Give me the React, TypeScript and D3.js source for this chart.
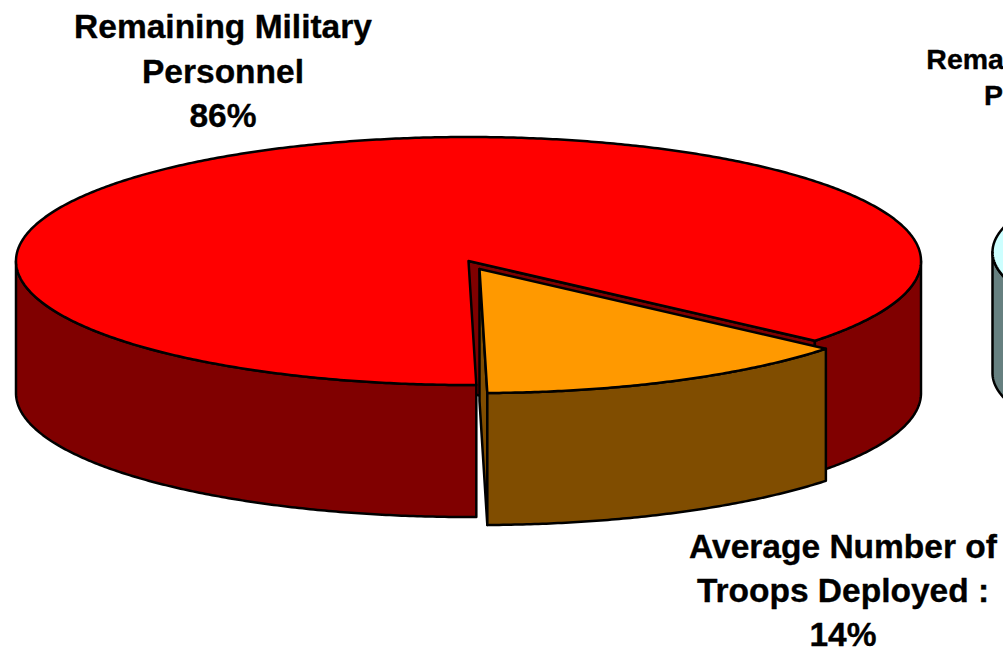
import React from "react";
import * as d3 from "d3";

// Data
const sliceNames = ["Average Number of Troops Deployed", "Remaining Military Personnel"];
const sliceValues = [13.6, 86.4];
const topColors = ["#FF9900", "#FF0000"];
const wallColors = ["#804D00", "#800000"];
const labelLines = [
  ["Average Number of", "Troops Deployed :", "14%"],
  ["Remaining Military", "Personnel", "86%"],
];
const secondPieLabel = ["Remaining Military", "Personnel"];
const secondPieValues = [100];
const secondTop = "#CCFFFF";
const secondWall = "#668080";

const deg = Math.PI / 180;
const FONT = "'Liberation Sans', Arial, sans-serif";
const STROKE = 2.5;

// Projection: unit circle to tilted ellipse
const px = d3.scaleLinear().domain([-1, 1]).range([16, 921]);
const py = d3.scaleLinear().domain([-1, 1]).range([137, 385]);
const DEPTH = 132;
const EXPLODE: [number, number] = [11, 8];

const px2 = d3.scaleLinear().domain([-1, 1]).range([992.5, 1722.5]);
const py2 = d3.scaleLinear().domain([-1, 1]).range([152, 352]);
const DEPTH2 = 121;

const pie = d3
  .pie<number>()
  .sort(null)
  .value((d) => d)
  .startAngle(130.05 * deg)
  .endAngle(130.05 * deg + 2 * Math.PI);
const arcs = pie(sliceValues);

type P = [number, number];
const line = d3.line<P>();
const pt = (a: number, dx = 0, dy = 0, sx = px, sy = py): P => [
  sx(Math.sin(a)) + dx,
  sy(-Math.cos(a)) + dy,
];
const sample = (a0: number, a1: number) => {
  const n = Math.max(2, Math.ceil(Math.abs(a1 - a0) / (0.5 * deg)));
  return d3.range(n + 1).map((i) => a0 + ((a1 - a0) * i) / n);
};
const arcPts = (a0: number, a1: number, dx = 0, dy = 0, sx = px, sy = py) =>
  sample(a0, a1).map((a) => pt(a, dx, dy, sx, sy));
const closed = (pts: P[]) => (line(pts) as string) + "Z";

// Parts of [a0,a1] on the near side of the ellipse (90°..270° from 12 o'clock)
const frontRanges = (a0: number, a1: number): [number, number][] => {
  const out: [number, number][] = [];
  for (let k = 0; k < 3; k++) {
    const lo = Math.max(a0, Math.PI / 2 + k * 2 * Math.PI);
    const hi = Math.min(a1, (3 * Math.PI) / 2 + k * 2 * Math.PI);
    if (hi > lo) out.push([lo, hi]);
  }
  return out;
};

const wallPath = (a0: number, a1: number, dx = 0, dy = 0, d = DEPTH, sx = px, sy = py) => {
  const top = arcPts(a0, a1, dx, dy, sx, sy);
  const bottom = arcPts(a1, a0, dx, dy + d, sx, sy);
  return closed([...top, ...bottom]);
};

const orange = arcs[0];
const red = arcs[1];
const center: P = [px(0), py(0)];
const oCenter: P = [center[0] + EXPLODE[0], center[1] + EXPLODE[1]];

const Text = ({ lines, cx, y0, lh, size }: { lines: string[]; cx: number; y0: number; lh: number; size: number }) => (
  <text fontFamily={FONT} fontWeight="bold" fontSize={size} textAnchor="middle" fill="#000">
    {lines.map((l, i) => (
      <tspan key={i} x={cx} y={y0 + i * lh}>
        {l}
      </tspan>
    ))}
  </text>
);

export default function App() {
  const redEnd = pt(red.endAngle); // right cut of the red slice
  const secondArcs = d3.pie<number>().sort(null)(secondPieValues);
  const s = secondArcs[0];
  return (
    <svg
      width={1003}
      height={650}
      viewBox="0 0 1003 650"
      style={{ position: "absolute", left: 0, top: 0, display: "block", background: "#fff" }}
      stroke="#000"
      strokeWidth={STROKE}
      strokeLinejoin="round"
    >
      {/* second pie, cropped by the page edge */}
      {frontRanges(s.startAngle, s.endAngle).map(([a, b], i) => (
        <path key={i} d={wallPath(a, b, 0, 0, DEPTH2, px2, py2)} fill={secondWall} />
      ))}
      <path d={closed(arcPts(s.startAngle, s.endAngle, 0, 0, px2, py2))} fill={secondTop} />

      {/* red slice: cut face, outer wall, top */}
      <path
        d={closed([center, redEnd, [redEnd[0], redEnd[1] + DEPTH], [center[0], center[1] + DEPTH]])}
        fill={wallColors[1]}
      />
      {frontRanges(red.startAngle, red.endAngle).map(([a, b], i) => (
        <path key={i} d={wallPath(a, b)} fill={wallColors[1]} />
      ))}
      <path d={closed([center, ...arcPts(red.startAngle, red.endAngle)])} fill={topColors[1]} />

      {/* exploded orange slice */}
      {(() => {
        const sp = pt(orange.endAngle, EXPLODE[0], EXPLODE[1]);
        return (
          <path
            d={closed([oCenter, [oCenter[0], oCenter[1] + DEPTH], [sp[0], sp[1] + DEPTH], sp])}
            fill={wallColors[0]}
          />
        );
      })()}
      <path d={wallPath(orange.startAngle, orange.endAngle, EXPLODE[0], EXPLODE[1])} fill={wallColors[0]} />
      <path
        d={closed([oCenter, ...arcPts(orange.startAngle, orange.endAngle, EXPLODE[0], EXPLODE[1])])}
        fill={topColors[0]}
      />

      <g stroke="#000" strokeWidth={0.35}>
        <Text lines={labelLines[1]} cx={223} y0={38} lh={44.5} size={33.5} />
        <Text lines={labelLines[0]} cx={843} y0={558} lh={44} size={33.5} />
        <Text lines={secondPieLabel} cx={1053} y0={69} lh={36} size={28.5} />
      </g>
      <title>{sliceNames.join(" / ")}</title>
    </svg>
  );
}
